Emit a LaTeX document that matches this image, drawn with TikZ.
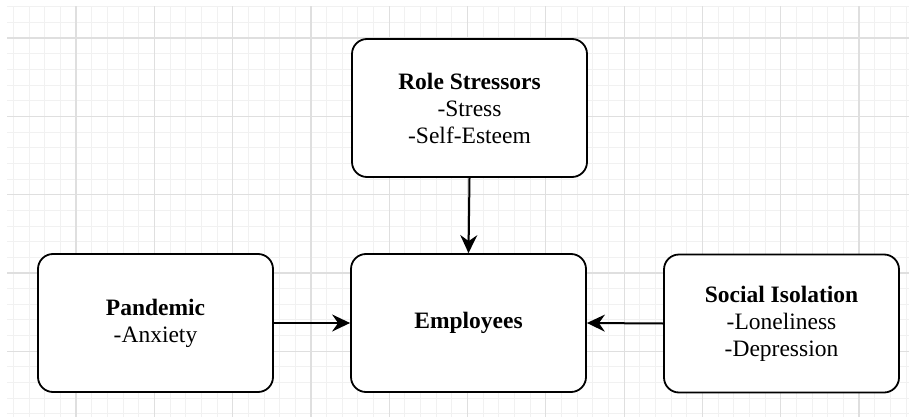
\documentclass[tikz,border=0pt]{standalone}
\usepackage{fontspec}
\setmainfont{Liberation Serif}
\usetikzlibrary{arrows.meta}
\definecolor{gridminor}{HTML}{F1F1F1}
\definecolor{gridmajor}{HTML}{DFDFDF}
\tikzset{
  boxnode/.style={draw=black, line width=1.8pt, fill=white, rounded corners=15pt,
    minimum width=235pt, minimum height=138pt, align=center, inner sep=0pt,
    font=\fontsize{23.5}{27}\selectfont},
  conn/.style={line width=2pt, -{Stealth[length=18pt,width=17pt,inset=6pt]}},
  minorline/.style={gridminor, line width=0.8pt},
  majorline/.style={gridmajor, line width=1.2pt}
}
\begin{document}
\begin{tikzpicture}[x=1pt,y=-1pt]
\useasboundingbox (0,0) rectangle (909,417);
\fill[white] (0,0) rectangle (909,417);
\begin{scope}
\clip (7,7) rectangle (909,417);
\foreach \k in {-4,...,54} {
  \pgfmathsetmacro{\xx}{76+\k*15.66}
  \draw[minorline] (\xx,0) -- (\xx,417);
}
\foreach \k in {-3,...,25} {
  \pgfmathsetmacro{\yy}{38+\k*15.66}
  \draw[minorline] (0,\yy) -- (909,\yy);
}
\foreach \k in {-1,...,11} {
  \pgfmathsetmacro{\xx}{76+\k*78.3}
  \draw[majorline] (\xx,0) -- (\xx,417);
}
\foreach \k in {-1,...,5} {
  \pgfmathsetmacro{\yy}{38+\k*78.3}
  \draw[majorline] (0,\yy) -- (909,\yy);
}
\end{scope}

\node[boxnode] (role) at (469.5,108) {\textbf{Role Stressors}\\-Stress\\-Self-Esteem};
\node[boxnode] (emp) at (468.5,323) {\textbf{Employees}};
\node[boxnode] (pan) at (155.5,323) {\textbf{Pandemic}\\-Anxiety};
\node[boxnode] (soc) at (781.5,323.5) {\textbf{Social Isolation}\\-Loneliness\\-Depression};

\draw[conn] (role.south) -- (emp.north);
\draw[conn] (pan.east) -- (emp.west);
\draw[conn] (soc.west) -- (emp.east);
\end{tikzpicture}
\end{document}
